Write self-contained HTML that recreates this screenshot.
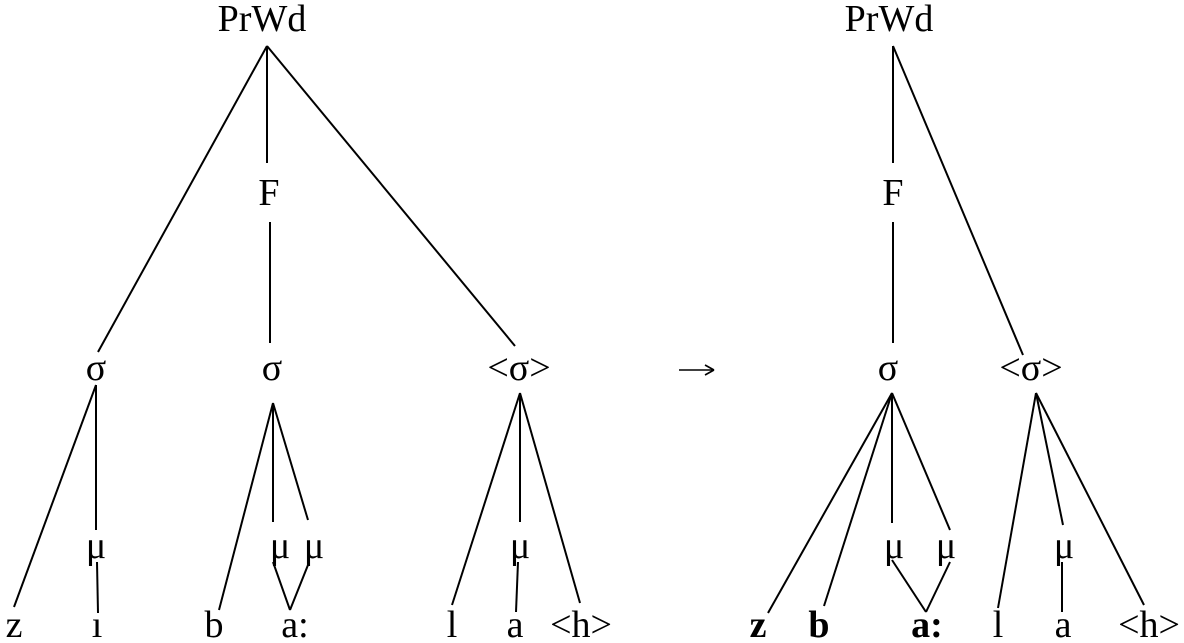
<!DOCTYPE html>
<html><head><meta charset="utf-8"><style>
html,body{margin:0;padding:0;background:#fff;}
svg{display:block}
text{font-family:"Liberation Serif",serif;font-size:38px;fill:#000;text-anchor:middle}
.b{font-weight:bold}
line{stroke:#000;stroke-width:2}
</style></head><body>
<svg width="1184" height="643" viewBox="0 0 1184 643">
<!-- Left tree -->
<text x="262" y="31">PrWd</text>
<line x1="267" y1="46" x2="98" y2="352"/>
<line x1="267" y1="46" x2="267" y2="163"/>
<line x1="267" y1="46" x2="515" y2="346"/>
<text x="269" y="205">F</text>
<line x1="270" y1="222" x2="270" y2="343"/>
<text x="96" y="380">σ</text>
<text x="272" y="380">σ</text>
<text x="519" y="380">&lt;σ&gt;</text>
<line x1="96" y1="385" x2="14" y2="607"/>
<line x1="96" y1="385" x2="96" y2="530"/>
<text x="96" y="558">μ</text>
<line x1="97" y1="562" x2="98" y2="613"/>
<text x="14" y="637">z</text>
<text x="97" y="637">ı</text>
<line x1="273" y1="403" x2="219" y2="610"/>
<line x1="273" y1="403" x2="273" y2="522"/>
<line x1="273" y1="403" x2="308" y2="520"/>
<text x="280" y="558">μ</text>
<text x="314" y="558">μ</text>
<line x1="273" y1="562" x2="290" y2="610"/>
<line x1="308" y1="565" x2="290" y2="610"/>
<text x="214" y="637">b</text>
<text x="295" y="637">a:</text>
<line x1="520" y1="393" x2="452" y2="605"/>
<line x1="520" y1="393" x2="520" y2="522"/>
<line x1="520" y1="393" x2="580" y2="603"/>
<text x="520" y="558">μ</text>
<line x1="518" y1="562" x2="516" y2="612"/>
<text x="452" y="637">l</text>
<text x="515" y="637">a</text>
<text x="581" y="637">&lt;h&gt;</text>
<!-- arrow -->
<line x1="679" y1="370" x2="713" y2="370" style="stroke-width:1.6"/>
<line x1="705" y1="365" x2="714" y2="370" style="stroke-width:1.6"/>
<line x1="705" y1="375" x2="714" y2="370" style="stroke-width:1.6"/>
<!-- Right tree -->
<text x="889" y="31">PrWd</text>
<line x1="893" y1="46" x2="893" y2="163"/>
<line x1="893" y1="46" x2="1023" y2="355"/>
<text x="893" y="205">F</text>
<line x1="893" y1="222" x2="893" y2="343"/>
<text x="888" y="380">σ</text>
<text x="1031" y="380">&lt;σ&gt;</text>
<line x1="892" y1="393" x2="768" y2="613"/>
<line x1="892" y1="393" x2="824" y2="606"/>
<line x1="892" y1="393" x2="892" y2="523"/>
<line x1="892" y1="393" x2="950" y2="530"/>
<text x="894" y="558">μ</text>
<text x="946" y="558">μ</text>
<line x1="892" y1="560" x2="926" y2="612"/>
<line x1="950" y1="562" x2="926" y2="612"/>
<text class="b" x="758" y="637">z</text>
<text class="b" x="819" y="637">b</text>
<text class="b" x="927" y="637">a:</text>
<line x1="1036" y1="393" x2="998" y2="608"/>
<line x1="1036" y1="393" x2="1063" y2="525"/>
<line x1="1036" y1="393" x2="1144" y2="605"/>
<text x="1064" y="558">μ</text>
<line x1="1062" y1="562" x2="1062" y2="612"/>
<text x="998" y="637">l</text>
<text x="1063" y="637">a</text>
<text x="1149" y="637">&lt;h&gt;</text>
</svg>
</body></html>
